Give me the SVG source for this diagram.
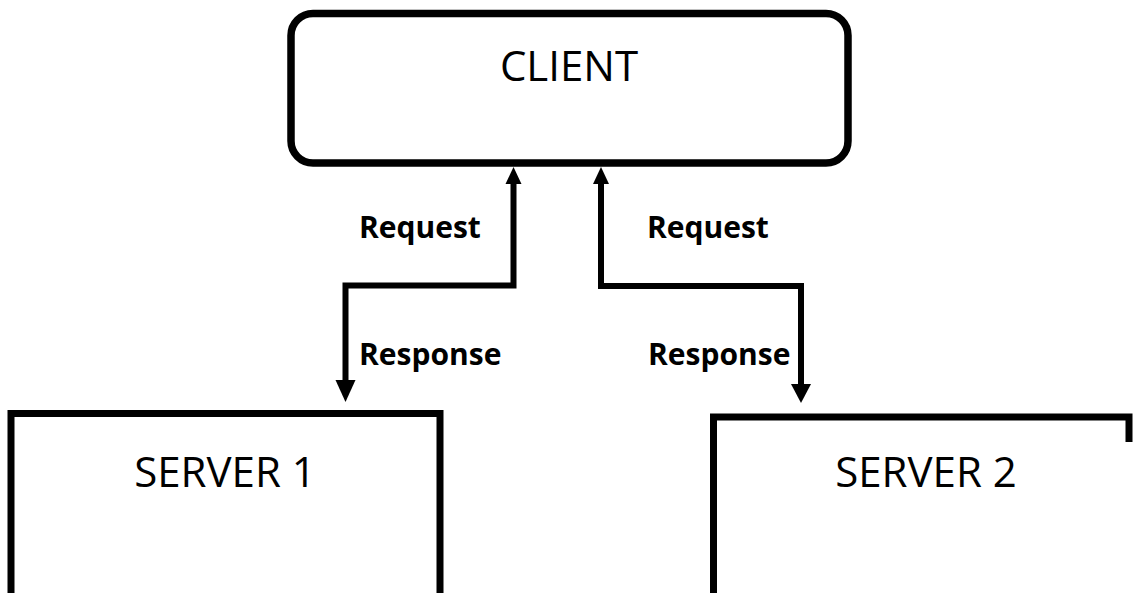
<svg xmlns="http://www.w3.org/2000/svg" width="1133" height="593" viewBox="0 0 1133 593">
  <style>
    .box { fill: #ffffff; stroke: #000000; }
    .title { font-family: "Open Sans", "Liberation Sans", sans-serif; font-size: 42px; fill: #000000; text-anchor: middle; }
    .label { font-family: "Open Sans", "Liberation Sans", sans-serif; font-size: 30px; font-weight: bold; fill: #000000; }
    .wire { fill: none; stroke: #000000; stroke-width: 6; stroke-linejoin: miter; }
    .head { fill: #000000; stroke: none; }
  </style>
  <rect width="1133" height="593" fill="#ffffff"/>

  <!-- client node -->
  <g id="client">
    <rect class="box" x="291" y="13.5" width="557" height="149.5" rx="22" ry="22" stroke-width="7.5"/>
    <text class="title" x="569" y="81">CLIENT</text>
  </g>

  <!-- server nodes (run off the bottom edge) -->
  <g id="server1">
    <path class="box" d="M11 600 V413.5 H440 V600" stroke-width="7"/>
    <text class="title" x="225" y="487">SERVER 1</text>
  </g>
  <g id="server2">
    <path class="box" d="M713.5 600 V417 H1129 V442" stroke-width="7" fill="none"/>
    <text class="title" x="926" y="487">SERVER 2</text>
  </g>

  <!-- request / response connectors -->
  <g id="connectors">
    <path class="wire" d="M513.5 182 V285.5 H345.5 V382"/>
    <polygon class="head" points="513.5,167 505.5,184 521.5,184"/>
    <polygon class="head" points="345.5,402 335.5,380 355.5,380"/>

    <path class="wire" d="M601 182 V286 H801 V386"/>
    <polygon class="head" points="601,167 593,184 609,184"/>
    <polygon class="head" points="801,403 791,384 811,384"/>
  </g>

  <!-- connector labels -->
  <g id="labels">
    <text class="label" x="359" y="238">Request</text>
    <text class="label" x="647" y="238">Request</text>
    <text class="label" x="359" y="365">Response</text>
    <text class="label" x="648" y="365">Response</text>
  </g>
</svg>
